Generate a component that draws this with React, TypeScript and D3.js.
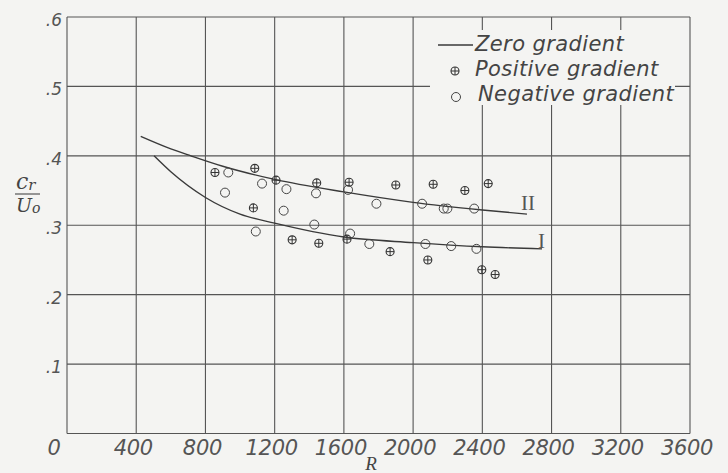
import React from "react";
import * as d3 from "d3";

const xTicks = [0, 400, 800, 1200, 1600, 2000, 2400, 2800, 3200, 3600];
const xTickLabels = ["0", "400", "800", "1200", "1600", "2000", "2400", "2800", "3200", "3600"];
const yTicks = [0, 0.1, 0.2, 0.3, 0.4, 0.5, 0.6];
const yTickLabels = ["", ".1", ".2", ".3", ".4", ".5", ".6"];

// Zero gradient curves
const curveII_R = [426, 600, 716, 900, 1200, 1600, 2000, 2400, 2658];
const curveII_V = [0.428, 0.410, 0.400, 0.385, 0.366, 0.348, 0.333, 0.322, 0.316];
const curveI_R = [503, 600, 800, 1000, 1200, 1600, 2000, 2400, 2745];
const curveI_V = [0.400, 0.377, 0.340, 0.316, 0.303, 0.283, 0.275, 0.269, 0.266];

// Positive gradient points
const posR = [855, 1085, 1208, 1443, 1630, 1077, 1301, 1455, 1618, 1900, 2116, 2299, 2434, 1867, 2085, 2397, 2474];
const posV = [0.376, 0.382, 0.365, 0.361, 0.362, 0.325, 0.279, 0.274, 0.280, 0.358, 0.359, 0.350, 0.360, 0.262, 0.250, 0.236, 0.229];

// Negative gradient points
const negR = [932, 1127, 913, 1268, 1439, 1624, 1252, 1429, 1091, 1636, 1747, 1788, 2052, 2177, 2198, 2353, 2071, 2220, 2366];
const negV = [0.376, 0.360, 0.347, 0.352, 0.346, 0.351, 0.321, 0.301, 0.291, 0.288, 0.273, 0.331, 0.331, 0.324, 0.324, 0.324, 0.273, 0.270, 0.266];

const legendLabels = ["Zero gradient", "Positive gradient", "Negative gradient"];

const W = 728, H = 473;
const INK = "#3a3a3a";
const BG = "#f4f4f2";
const TXT = "#555";
const LETTER = "'DejaVu Sans', 'Liberation Sans', sans-serif";

function Plus({ cx, cy, r }: { cx: number; cy: number; r: number }) {
  return (
    <g transform={`translate(${cx},${cy})`}>
      <circle r={r} fill="none" stroke="#333" strokeWidth={1.1} />
      <line x1={-r} x2={r} y1={0} y2={0} stroke="#333" strokeWidth={1} />
      <line x1={0} x2={0} y1={-r} y2={r} stroke="#333" strokeWidth={1} />
    </g>
  );
}

export default function App() {
  const x = d3.scaleLinear().domain([0, 3600]).range([67, 690]);
  const y = d3.scaleLinear().domain([0, 0.6]).range([433.5, 17]);
  const line = d3
    .line<[number, number]>()
    .x((d) => x(d[0]))
    .y((d) => y(d[1]))
    .curve(d3.curveMonotoneX);
  const cII = curveII_R.map((r, i) => [r, curveII_V[i]] as [number, number]);
  const cI = curveI_R.map((r, i) => [r, curveI_V[i]] as [number, number]);

  return (
    <svg
      width={W}
      height={H}
      style={{ position: "absolute", left: 0, top: 0, background: BG }}
    >
      <rect x={0} y={0} width={W} height={H} fill={BG} />
      {/* grid */}
      {xTicks.map((t) => (
        <line key={"gx" + t} x1={x(t)} x2={x(t)} y1={y(0.6)} y2={y(0)} stroke="#555" strokeWidth={1.1} />
      ))}
      {yTicks.map((t) => (
        <line key={"gy" + t} x1={x(0)} x2={x(3600)} y1={y(t)} y2={y(t)} stroke="#555" strokeWidth={1.1} />
      ))}
      {/* axis labels */}
      {xTicks.map((t, i) => (
        <text
          key={"xl" + t}
          x={x(t) + (t === 0 ? -13 : -3)}
          y={455}
          textAnchor="middle"
          fontFamily={LETTER}
          fontStyle="italic"
          fontSize={21}
          letterSpacing={-0.3}
          fill={TXT}
        >
          {xTickLabels[i]}
        </text>
      ))}
      {yTicks.map((t, i) => (
        <text
          key={"yl" + t}
          x={62}
          y={y(t) + 9}
          textAnchor="end"
          fontFamily={LETTER}
          fontStyle="italic"
          fontSize={17}
          fill={TXT}
        >
          {yTickLabels[i]}
        </text>
      ))}
      <text x={371} y={470} textAnchor="middle" fontFamily="'Liberation Serif', serif" fontStyle="italic" fontSize={19} fill="#444">
        R
      </text>
      {/* y label fraction */}
      <text x={16} y={189} fontFamily="'DejaVu Serif', serif" fontStyle="italic" fontSize={22} fill="#444">
        c<tspan fontSize={15} dy={1}>r</tspan>
      </text>
      <line x1={15} x2={40} y1={194} y2={194} stroke="#555" strokeWidth={1.2} />
      <text x={16} y={212} fontFamily="'DejaVu Serif', serif" fontStyle="italic" fontSize={19} fill="#444">
        U<tspan fontSize={14} dy={1}>o</tspan>
      </text>
      {/* curves */}
      <path d={line(cII) || ""} fill="none" stroke={INK} strokeWidth={1.4} />
      <path d={line(cI) || ""} fill="none" stroke={INK} strokeWidth={1.4} />
      <text x={521} y={210} fontFamily="'Liberation Serif', serif" fontSize={21} fill="#555">II</text>
      <text x={538} y={248} fontFamily="'Liberation Serif', serif" fontSize={21} fill="#555">I</text>
      {/* points */}
      {negR.map((r, i) => (
        <circle key={"n" + i} cx={x(r)} cy={y(negV[i])} r={4.5} fill="none" stroke="#444" strokeWidth={1} />
      ))}
      {posR.map((r, i) => (
        <Plus key={"p" + i} cx={x(r)} cy={y(posV[i])} r={4} />
      ))}
      {/* legend */}
      <rect x={430} y={30} width={245} height={75} fill={BG} />
      <line x1={438} x2={473} y1={45} y2={45} stroke={INK} strokeWidth={1.3} />
      <Plus cx={455} cy={71} r={4} />
      <circle cx={456} cy={97} r={4.5} fill="none" stroke="#444" strokeWidth={1} />
      {legendLabels.map((l, i) => (
        <text
          key={l}
          x={i === 2 ? 478 : 475}
          y={51 + i * 25}
          fontFamily={LETTER}
          fontStyle="italic"
          fontSize={21}
          letterSpacing={0.4}
          fill="#444"
        >
          {l}
        </text>
      ))}
    </svg>
  );
}
